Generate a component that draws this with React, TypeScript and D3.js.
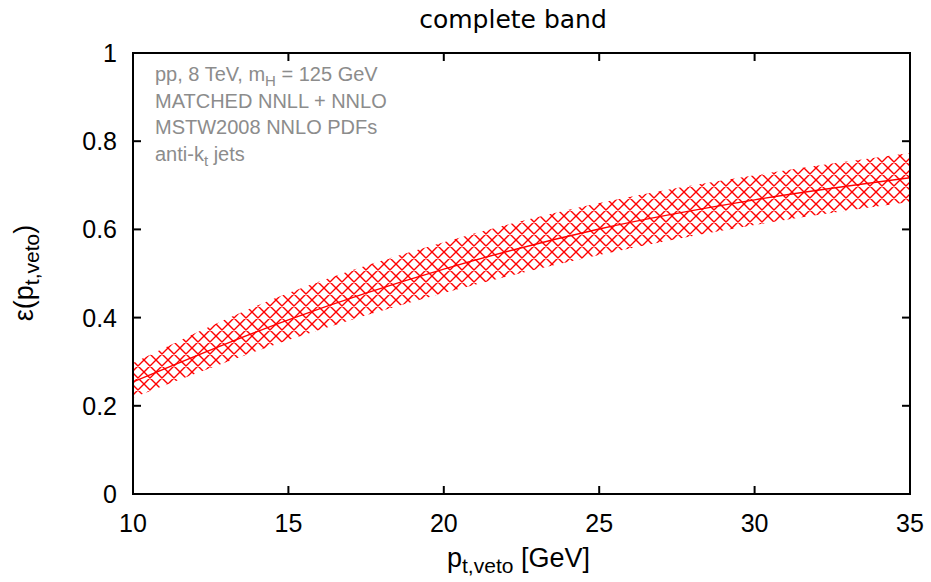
import React from "react";
import * as d3 from "d3";

const ptVeto = [10, 15, 20, 25, 30, 35];
const central = [0.254, 0.395, 0.51, 0.601, 0.667, 0.717];
const upper = [0.297, 0.456, 0.571, 0.66, 0.723, 0.773];
const lower = [0.218, 0.349, 0.456, 0.542, 0.61, 0.662];
const xTicks = [10, 15, 20, 25, 30, 35];
const yTicks = [0, 0.2, 0.4, 0.6, 0.8, 1];
const yTickLabels = ["0", "0.2", "0.4", "0.6", "0.8", "1"];

const W = 931;
const H = 582;
const L = 133, R = 910, T = 53, B = 494;

export default function App() {
  const x = d3.scaleLinear().domain([10, 35]).range([L, R]);
  const y = d3.scaleLinear().domain([0, 1]).range([B, T]);
  const pts = ptVeto.map((v, i) => ({ x: v, c: central[i], u: upper[i], l: lower[i] }));
  const area = d3
    .area<any>()
    .x((d) => x(d.x))
    .y0((d) => y(d.l))
    .y1((d) => y(d.u))
    .curve(d3.curveMonotoneX);
  const line = d3
    .line<any>()
    .x((d) => x(d.x))
    .y((d) => y(d.c))
    .curve(d3.curveMonotoneX);
  const tickLen = 8;
  const sans = "'Liberation Sans', Arial, sans-serif";
  const gray = "#8c8c8c";
  return (
    <svg
      width={W}
      height={H}
      style={{ position: "absolute", left: 0, top: 0, background: "#fff" }}
    >
      <defs>
        <pattern id="hatch" patternUnits="userSpaceOnUse" width={12} height={12}>
          <path d="M0,0L12,12M0,12L12,0M-1,1L1,-1M11,13L13,11M-1,11L1,13M11,-1L13,1" stroke="#ff0000" strokeWidth={1.4} fill="none" />
        </pattern>
        <clipPath id="plotClip">
          <rect x={L} y={T} width={R - L} height={B - T} />
        </clipPath>
      </defs>
      <rect x={0} y={0} width={W} height={H} fill="#fff" />
      <g clipPath="url(#plotClip)">
        <path d={area(pts) || ""} fill="url(#hatch)" stroke="none" />
        <path d={line(pts) || ""} fill="none" stroke="#ff0000" strokeWidth={1.4} />
      </g>
      <rect x={L} y={T} width={R - L} height={B - T} fill="none" stroke="#000" strokeWidth={2} />
      {xTicks.map((t) => (
        <g key={"x" + t}>
          <line x1={x(t)} x2={x(t)} y1={B} y2={B - tickLen} stroke="#000" strokeWidth={2} />
          <line x1={x(t)} x2={x(t)} y1={T} y2={T + tickLen} stroke="#000" strokeWidth={2} />
          <text x={x(t)} y={532} textAnchor="middle" fontFamily={sans} fontSize={25} fill="#000">
            {t}
          </text>
        </g>
      ))}
      {yTicks.map((t, i) => (
        <g key={"y" + t}>
          <line x1={L} x2={L + tickLen} y1={y(t)} y2={y(t)} stroke="#000" strokeWidth={2} />
          <line x1={R} x2={R - tickLen} y1={y(t)} y2={y(t)} stroke="#000" strokeWidth={2} />
          <text x={117} y={y(t) + 9} textAnchor="end" fontFamily={sans} fontSize={25} fill="#000">
            {yTickLabels[i]}
          </text>
        </g>
      ))}
      <text x={513} y={28} textAnchor="middle" fontFamily="'DejaVu Sans', sans-serif" fontSize={25} fill="#000">
        complete band
      </text>
      <text x={447} y={567} fontFamily={sans} fontSize={27} fill="#000">
        p<tspan fontSize={21} dy={6}>t,veto</tspan>
        <tspan dy={-6}> [GeV]</tspan>
      </text>
      <text
        transform="translate(33,273) rotate(-90)"
        textAnchor="middle"
        fontFamily={sans}
        fontSize={27}
        fill="#000"
      >
        ε(p<tspan fontSize={21} dy={6}>t,veto</tspan>
        <tspan dy={-6}>)</tspan>
      </text>
      <g fontFamily={sans} fontSize={20} fill={gray}>
        <text x={155} y={81}>
          pp, 8 TeV, m<tspan fontSize={15} dy={5}>H</tspan>
          <tspan dy={-5}> = 125 GeV</tspan>
        </text>
        <text x={155} y={108}>MATCHED NNLL + NNLO</text>
        <text x={155} y={134}>MSTW2008 NNLO PDFs</text>
        <text x={155} y={161}>
          anti-k<tspan fontSize={15} dy={5}>t</tspan>
          <tspan dy={-5}> jets</tspan>
        </text>
      </g>
    </svg>
  );
}
